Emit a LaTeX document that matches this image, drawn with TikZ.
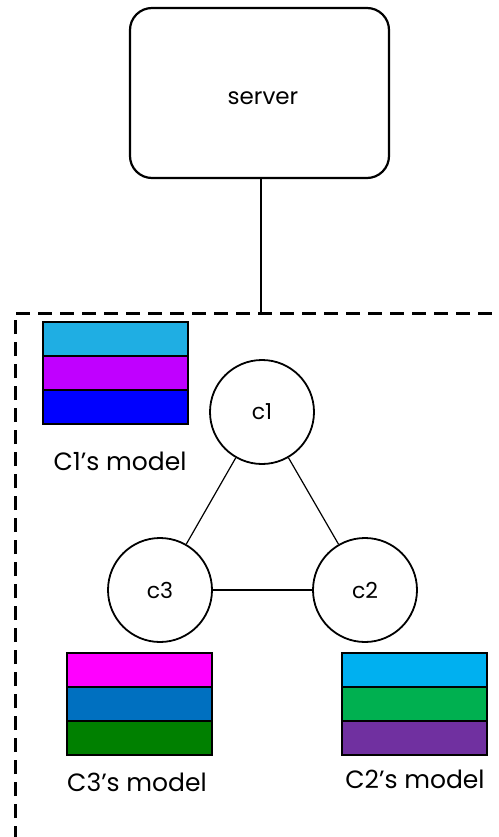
\documentclass[tikz,border=0pt]{standalone}
\usepackage{fontspec}
\setmainfont{Poppins}
\definecolor{aA}{HTML}{1FAEE3}
\definecolor{aB}{HTML}{C000FF}
\definecolor{aC}{HTML}{0000FF}
\definecolor{bA}{HTML}{00B0F0}
\definecolor{bB}{HTML}{00B050}
\definecolor{bC}{HTML}{7030A0}
\definecolor{cA}{HTML}{FF00FF}
\definecolor{cB}{HTML}{0070C0}
\definecolor{cC}{HTML}{008000}
\begin{document}
\begin{tikzpicture}[x=1pt,y=-1pt,
  client/.style={circle,draw,line width=1.8pt,minimum size=104pt,inner sep=0pt,font=\fontsize{22}{26}\selectfont},
  link/.style={line width=1.2pt},
  stripe/.style={draw,line width=2.6pt,minimum width=145pt,minimum height=34pt,inner sep=0pt},
  lbl/.style={font=\fontsize{25}{30}\selectfont,inner sep=0pt}]
\useasboundingbox (0,0) rectangle (498,837);
\node[draw,rounded corners=22pt,line width=2.2pt,minimum width=259pt,minimum height=170pt] (server) at (259.5,93) {};
\node[font=\fontsize{23}{27}\selectfont] (stxt) at (263,98) {server};
\draw[line width=3pt,dash pattern=on 14pt off 8pt] (15,840) -- (15,313) -- (500,313);
\coordinate (grp) at (261,313);
\draw[link] (server.south -| grp) -- (grp);
\node[client] (c1) at (262,412) {c1};
\node[client] (c3) at (160,590) {c3};
\node[client] (c2) at (365,590) {c2};
\draw[link] (c1) -- (c3);
\draw[link] (c1) -- (c2);
\draw[link] (c3) -- (c2);
% C1's model
\node[stripe,fill=aA] (m1a) at (115.5,339) {};
\node[stripe,fill=aB] (m1b) at (115.5,373) {};
\node[stripe,fill=aC] (m1c) at (115.5,407) {};
\node[lbl] (l1) at (120,461) {C1’s model};
% C3's model
\node[stripe,fill=cA] (m3a) at (139.5,670) {};
\node[stripe,fill=cB] (m3b) at (139.5,704) {};
\node[stripe,fill=cC] (m3c) at (139.5,738) {};
\node[lbl] (l3) at (137,782) {C3’s model};
% C2's model
\node[stripe,fill=bA] (m2a) at (414.5,670) {};
\node[stripe,fill=bB] (m2b) at (414.5,704) {};
\node[stripe,fill=bC] (m2c) at (414.5,738) {};
\node[lbl] (l2) at (415,779) {C2’s model};
\end{tikzpicture}
\end{document}
